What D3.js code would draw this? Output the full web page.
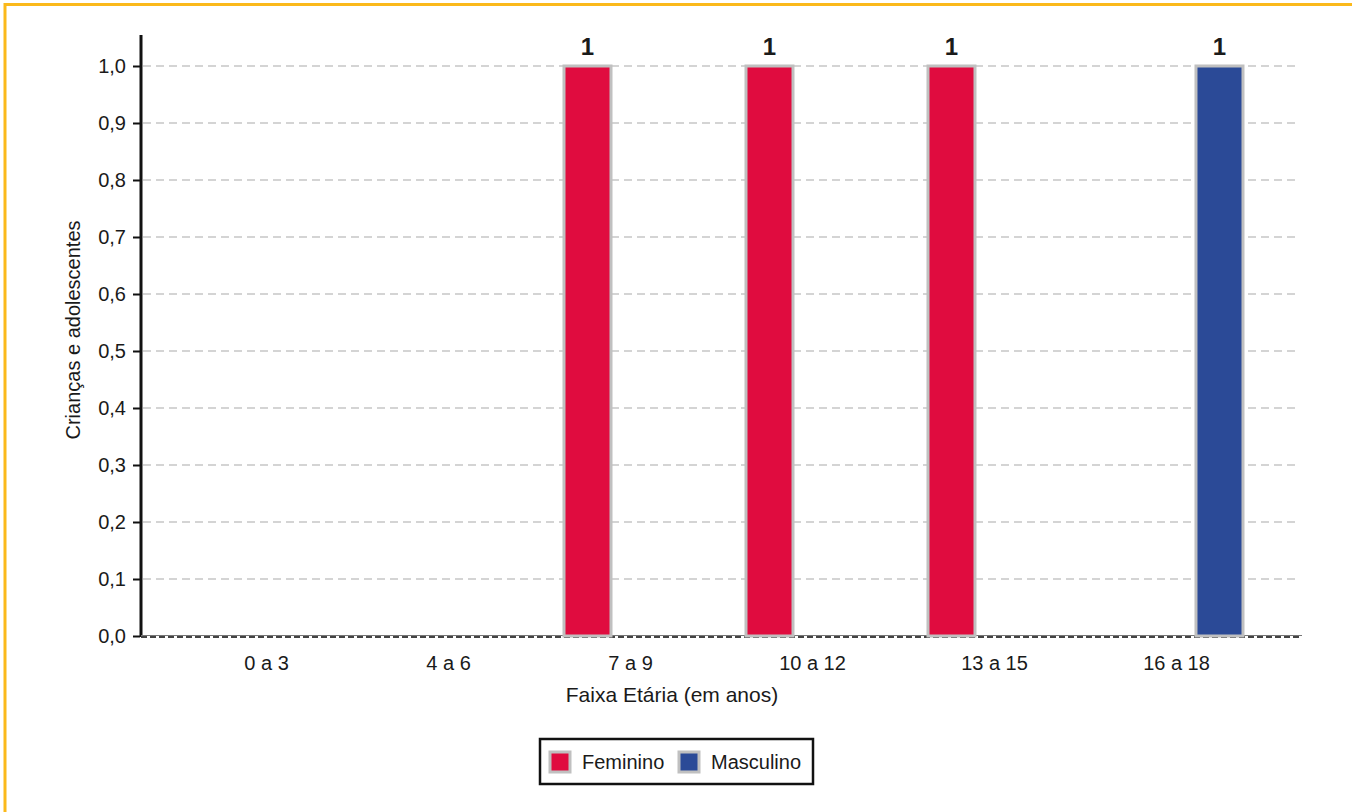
<!DOCTYPE html>
<html>
<head>
<meta charset="utf-8">
<script src="https://cdn.jsdelivr.net/npm/d3@7"></script>
<style>
  html, body { margin: 0; padding: 0; background: #fff; }
  svg { display: block; font-family: "Liberation Sans", Arial, sans-serif; }
</style>
</head>
<body>
<svg id="chart" width="1352" height="812"></svg>
<script>
// ---- data ----
const categories = ["0 a 3", "4 a 6", "7 a 9", "10 a 12", "13 a 15", "16 a 18"];
const seriesNames = ["Feminino", "Masculino"];
const feminino = [0, 0, 1, 1, 1, 0];
const masculino = [0, 0, 0, 0, 0, 1];
const yTicks = [0, 0.1, 0.2, 0.3, 0.4, 0.5, 0.6, 0.7, 0.8, 0.9, 1.0];
const colors = { "Feminino": "#e00c3f", "Masculino": "#2b4a97" };
const xTitle = "Faixa Etária (em anos)";
const yTitle = "Crianças e adolescentes";

// ---- layout ----
const W = 1352, H = 812;
const plot = { left: 141, right: 1302, top: 66, bottom: 636 };
const svg = d3.select("#chart");

svg.append("rect").attr("width", W).attr("height", H).attr("fill", "#fff");

// orange frame (top & left)
svg.append("line").attr("x1", 4).attr("x2", W).attr("y1", 4.5).attr("y2", 4.5)
  .attr("stroke", "#fbb91b").attr("stroke-width", 3);
svg.append("line").attr("x1", 5).attr("x2", 5).attr("y1", 3).attr("y2", H)
  .attr("stroke", "#fbb91b").attr("stroke-width", 3);

const x0 = d3.scaleBand().domain(categories).range([plot.left, plot.right])
  .paddingInner(0.2527).paddingOuter(0.316);
const x1 = d3.scaleBand().domain(seriesNames).range([0, x0.bandwidth()])
  .paddingInner(0.4186).paddingOuter(0);
const y = d3.scaleLinear().domain([0, 1]).range([plot.bottom, plot.top]);

const fmt = v => d3.format(".1f")(v).replace(".", ",");

// gridlines
svg.append("g").selectAll("line").data(yTicks.filter(t => t > 0)).join("line")
  .attr("x1", plot.left + 2).attr("x2", plot.right - 3)
  .attr("y1", d => y(d)).attr("y2", d => y(d))
  .attr("stroke", "#c6c6c6").attr("stroke-width", 1.5)
  .attr("stroke-dasharray", "8,5");

// y axis via d3.axisLeft
const yAxis = d3.axisLeft(y).tickValues(yTicks).tickFormat(fmt).tickSize(7).tickPadding(7);
const gy = svg.append("g").attr("transform", `translate(${plot.left - 1},0)`).call(yAxis);
gy.select(".domain").remove();
gy.selectAll(".tick line").attr("stroke", "#111").attr("stroke-width", 2);
gy.selectAll(".tick text").attr("fill", "#1a1a1a").style("font-size", "20px")
  .style("font-family", "'Liberation Sans', Arial, sans-serif");
svg.append("line").attr("x1", plot.left).attr("x2", plot.left)
  .attr("y1", 35).attr("y2", plot.bottom + 1)
  .attr("stroke", "#111").attr("stroke-width", 3);

// x axis baseline
svg.append("line").attr("x1", plot.left).attr("x2", plot.right)
  .attr("y1", plot.bottom - 0.5).attr("y2", plot.bottom - 0.5)
  .attr("stroke", "#777").attr("stroke-width", 1);
svg.append("line").attr("x1", plot.left).attr("x2", plot.right)
  .attr("y1", plot.bottom + 1).attr("y2", plot.bottom + 1)
  .attr("stroke", "#444").attr("stroke-width", 2).attr("stroke-dasharray", "6,3");

// x axis labels
const xAxis = d3.axisBottom(x0).tickSize(0).tickPadding(20);
const gx = svg.append("g").attr("transform", `translate(0,${plot.bottom})`).call(xAxis);
gx.select(".domain").remove();
gx.selectAll(".tick text").attr("fill", "#1a1a1a").style("font-size", "20px")
  .style("font-family", "'Liberation Sans', Arial, sans-serif");

// bars
const rows = categories.map((c, i) => ({ cat: c, values: [
  { s: "Feminino", v: feminino[i] }, { s: "Masculino", v: masculino[i] } ] }));
const groups = svg.append("g").selectAll("g").data(rows).join("g")
  .attr("transform", d => `translate(${x0(d.cat)},0)`);
const bars = groups.selectAll("g.bar").data(d => d.values.filter(e => e.v > 0)).join("g").attr("class", "bar");
bars.append("rect")
  .attr("x", d => x1(d.s) + 1.5)
  .attr("width", x1.bandwidth() - 3)
  .attr("y", d => y(d.v))
  .attr("height", d => y(0) - y(d.v))
  .attr("fill", d => colors[d.s])
  .attr("stroke", "#c0c0c0").attr("stroke-width", 3);
bars.append("text")
  .attr("x", d => x1(d.s) + x1.bandwidth() / 2)
  .attr("y", d => y(d.v) - 11)
  .attr("text-anchor", "middle")
  .attr("fill", "#1a1a1a").style("font-size", "24px").style("font-weight", "bold")
  .text(d => d3.format("d")(d.v));

// axis titles
svg.append("text").attr("x", 672).attr("y", 702).attr("text-anchor", "middle")
  .attr("fill", "#1a1a1a").style("font-size", "21px").text(xTitle);
svg.append("text").attr("transform", "translate(80,330) rotate(-90)")
  .attr("text-anchor", "middle").attr("fill", "#1a1a1a").style("font-size", "20px").text(yTitle);

// legend
const lg = svg.append("g").attr("transform", "translate(540,739)");
lg.append("rect").attr("x", 0).attr("y", 0).attr("width", 273).attr("height", 45)
  .attr("fill", "#fff").attr("stroke", "#111").attr("stroke-width", 2.5);
const legendX = [10, 139];
const li = lg.selectAll("g.li").data(seriesNames).join("g").attr("class", "li")
  .attr("transform", (d, i) => `translate(${legendX[i]},0)`);
li.append("rect").attr("x", 0).attr("y", 13).attr("width", 20).attr("height", 20)
  .attr("fill", d => colors[d]).attr("stroke", "#c0c0c0").attr("stroke-width", 3);
li.append("text").attr("x", 32).attr("y", 30).attr("fill", "#1a1a1a")
  .style("font-size", "20px").text(d => d);
</script>
</body>
</html>
